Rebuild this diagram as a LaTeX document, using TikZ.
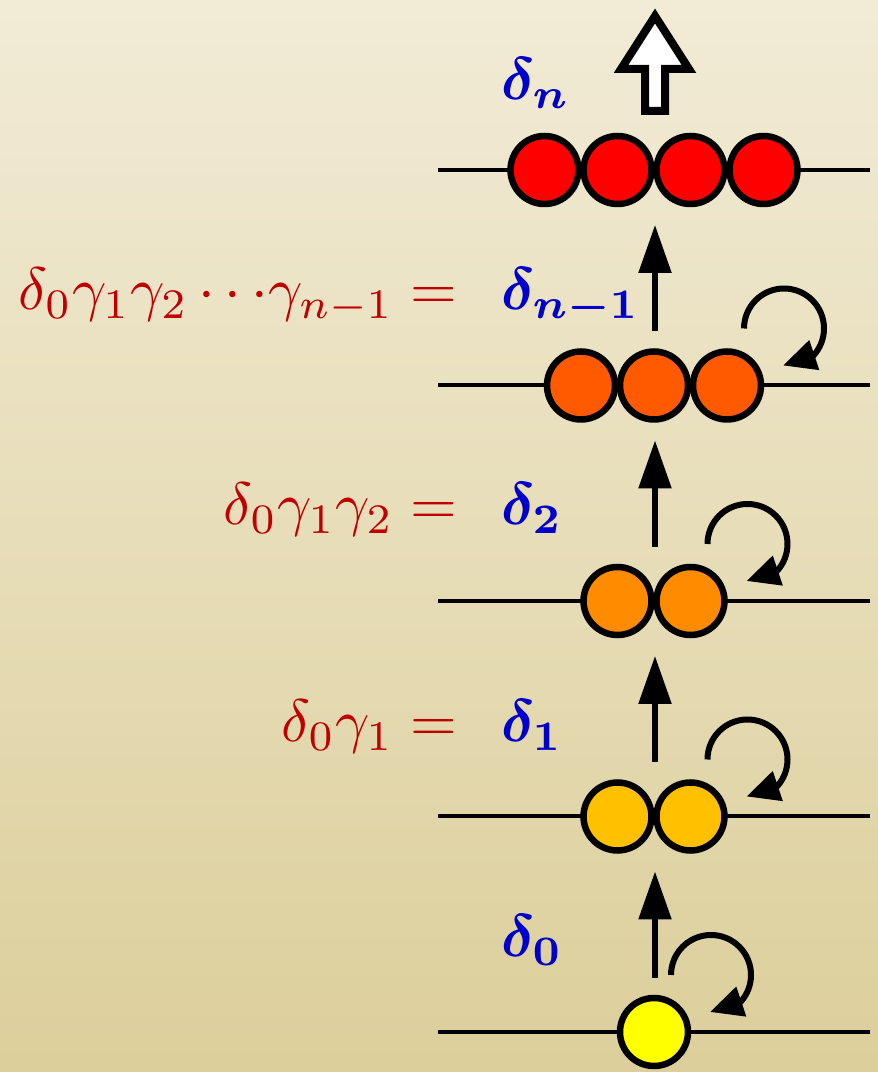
\documentclass[tikz,border=0pt]{standalone}
\usepackage{amsmath,bm}
\usetikzlibrary{arrows.meta}
\definecolor{bgtop}{HTML}{F2EBD6}
\definecolor{bgbot}{HTML}{DCCF9B}
\definecolor{lblred}{HTML}{C00000}
\definecolor{lblblue}{HTML}{0000CC}
\definecolor{ballA}{HTML}{FFFF00}
\definecolor{ballB}{HTML}{FFC000}
\definecolor{ballC}{HTML}{FF8C00}
\definecolor{ballD}{HTML}{FF5A00}
\definecolor{ballE}{HTML}{FF0000}
\begin{document}
\begin{tikzpicture}[x=1pt,y=1pt,
  ball/.style={circle, draw=black, line width=6.5pt, minimum size=68pt, inner sep=0pt},
  level/.style={line width=4pt, black},
  upar/.style={-{Triangle[length=48pt,width=32pt]}, line width=5.5pt},
  rot/.style={-{Triangle[length=33pt,width=30pt]}, line width=6pt},
  bluelbl/.style={text=lblblue, anchor=base west, inner sep=0pt, scale=6},
  redlbl/.style={text=lblred, anchor=base east, inner sep=0pt, scale=6}]
\shade[top color=bgtop,bottom color=bgbot] (0,0) rectangle (878,1072);
\useasboundingbox (0,0) rectangle (878,1072);
% level lines
\foreach \Y/\nm in {40/l0,255.5/l1,471/l2,686.5/l3,902/l4}{
  \coordinate (\nm w) at (438,\Y);
  \coordinate (\nm e) at (870,\Y);
  \draw[level] (\nm w) -- (\nm e);
}
% balls
\node[ball, fill=ballA] (r0a) at (654,40) {};
\node[ball, fill=ballB] (r1a) at (617.5,255.5) {};
\node[ball, fill=ballB] (r1b) at (690.5,255.5) {};
\node[ball, fill=ballC] (r2a) at (617.5,471) {};
\node[ball, fill=ballC] (r2b) at (690.5,471) {};
\node[ball, fill=ballD] (r3a) at (581,686.5) {};
\node[ball, fill=ballD] (r3b) at (654,686.5) {};
\node[ball, fill=ballD] (r3c) at (727,686.5) {};
\node[ball, fill=ballE] (r4a) at (544.5,902) {};
\node[ball, fill=ballE] (r4b) at (617.5,902) {};
\node[ball, fill=ballE] (r4c) at (690.5,902) {};
\node[ball, fill=ballE] (r4d) at (763.5,902) {};
% up arrows
\coordinate (a0s) at (655,94);    \coordinate (a0e) at (655,200.5);
\coordinate (a1s) at (655,309.5); \coordinate (a1e) at (655,416);
\coordinate (a2s) at (655,525);   \coordinate (a2e) at (655,631.5);
\coordinate (a3s) at (655,740.5); \coordinate (a3e) at (655,847);
\draw[upar] (a0s) -- (a0e);
\draw[upar] (a1s) -- (a1e);
\draw[upar] (a2s) -- (a2e);
\draw[upar] (a3s) -- (a3e);
% rotation arrows (start point and tip)
\coordinate (o0) at (671,97);    \coordinate (t0) at (710,60);
\coordinate (o1) at (707.5,312.5); \coordinate (t1) at (746.5,275.5);
\coordinate (o2) at (707.5,528);   \coordinate (t2) at (746.5,491);
\coordinate (o3) at (744,743.5);   \coordinate (t3) at (783,706.5);
\foreach \i in {0,1,2,3}{
  \draw[rot] (o\i) arc[start angle=180, end angle=-42, radius=40] -- (t\i);
}
% hollow top arrow
\draw[line width=8pt, fill=white, line join=miter, miter limit=10]
  (655,1056) -- (621,1003) -- (645,1003) -- (645,961) -- (665,961) -- (665,1003) -- (689,1003) -- cycle;
% labels
\node[bluelbl] (dn)  at (500,972) {$\bm{\delta_{n}}$};
\node[bluelbl] (dn1) at (500,762) {$\bm{\delta_{n-1}}$};
\node[bluelbl] (d2)  at (500,547) {$\bm{\delta_{2}}$};
\node[bluelbl] (d1)  at (500,330) {$\bm{\delta_{1}}$};
\node[bluelbl] (d0)  at (500,115) {$\bm{\delta_{0}}$};
\node[redlbl] (e3) at (458,762) {$\delta_0\gamma_1\gamma_2\,{\cdots}\gamma_{n-1} =$};
\node[redlbl] (e2) at (458,547) {$\delta_0\gamma_1\gamma_2 =$};
\node[redlbl] (e1) at (458,330) {$\delta_0\gamma_1 =$};
\end{tikzpicture}
\end{document}
